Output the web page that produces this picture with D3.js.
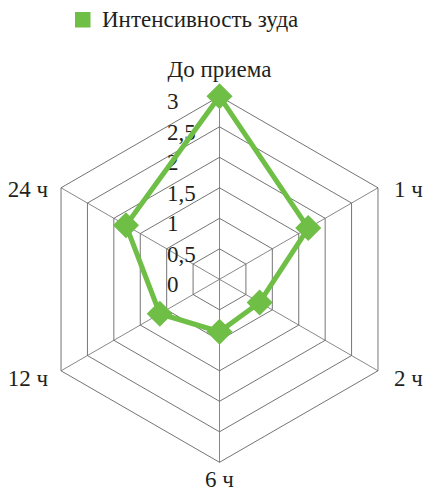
<!DOCTYPE html>
<html>
<head>
<meta charset="utf-8">
<script src="https://cdn.jsdelivr.net/npm/d3@7"></script>
</head>
<body style="margin:0">
<svg id="chart" width="423" height="492"></svg>
<script>
// data
const axesLabels = ["До приема", "1 ч", "2 ч", "6 ч", "12 ч", "24 ч"];
const itchValues = [3, 1.68, 0.76, 0.86, 1.13, 1.77];
const tickValues = [0, 0.5, 1, 1.5, 2, 2.5, 3];
const tickLabels = ["0", "0,5", "1", "1,5", "2", "2,5", "3"];
const seriesName = "Интенсивность зуда";

const svg = d3.select("#chart");
const cx = 219.5, cy = 279.3;
const green = "#6fbe46";
const fs = 23;
const font = "'Liberation Serif', monospace";

const r = d3.scaleLinear().domain([0, 3]).range([0, 183]);
const angle = d3.scaleLinear().domain([0, axesLabels.length]).range([0, 2 * Math.PI]);

const g = svg.append("g").attr("transform", `translate(${cx},${cy})`);

// rings
const ring = d3.lineRadial()
  .angle((d, i) => angle(i))
  .radius(d => r(d))
  .curve(d3.curveLinearClosed);

g.append("g").selectAll("path")
  .data(tickValues.slice(1))
  .join("path")
  .attr("d", v => ring(axesLabels.map(() => v)))
  .attr("fill", "none")
  .attr("stroke", "#505050")
  .attr("stroke-width", 0.8);

// spokes
g.append("g").selectAll("line")
  .data(axesLabels)
  .join("line")
  .attr("x1", 0).attr("y1", 0)
  .attr("x2", (d, i) => r(3) * Math.sin(angle(i)))
  .attr("y2", (d, i) => -r(3) * Math.cos(angle(i)))
  .attr("stroke", "#6a6a6a")
  .attr("stroke-width", 0.8);

// tick labels
g.selectAll("text.tick")
  .data(tickValues)
  .join("text")
  .attr("class", "tick")
  .attr("x", -52.5)
  .attr("y", d => -r(d) + 5)
  .attr("dy", "0.35em")
  .attr("font-size", fs)
  .style("font-family", font)
  .attr("fill", "#231f20")
  .text((d, i) => tickLabels[i]);

// series
g.append("path")
  .datum(itchValues)
  .attr("d", ring)
  .attr("fill", "none")
  .attr("stroke", green)
  .attr("stroke-width", 5)
  .attr("stroke-linejoin", "round");

g.append("g").selectAll("path")
  .data(itchValues)
  .join("path")
  .attr("d", d3.symbol(d3.symbolSquare, 340))
  .attr("transform", (d, i) =>
    `translate(${r(d) * Math.sin(angle(i))},${-r(d) * Math.cos(angle(i))}) rotate(45)`)
  .attr("fill", green);

// axis labels
g.selectAll("text.axis")
  .data(axesLabels)
  .join("text")
  .attr("class", "axis")
  .attr("font-size", fs)
  .style("font-family", font)
  .attr("fill", "#231f20")
  .each(function (d, i) {
    const a = angle(i);
    const sx = Math.sin(a), sy = -Math.cos(a);
    const x = r(3) * sx, y = r(3) * sy;
    const t = d3.select(this).text(d);
    if (Math.abs(sx) < 0.01) {
      t.attr("text-anchor", "middle")
        .attr("x", x)
        .attr("y", sy < 0 ? y - 19 : y + 25);
    } else {
      t.attr("text-anchor", sx > 0 ? "start" : "end")
        .attr("x", x + (sx > 0 ? 16 : -13))
        .attr("y", y + (sy > 0 ? 7 : 1))
        .attr("dy", "0.35em");
    }
  });

// legend
const legend = svg.append("g").attr("transform", "translate(75,12)");
legend.append("rect").attr("width", 15.5).attr("height", 15.5).attr("fill", green);
legend.append("text").attr("x", 27).attr("y", 15)
  .attr("font-size", fs).style("font-family", font).attr("fill", "#231f20")
  .text(seriesName);
</script>
</body>
</html>
